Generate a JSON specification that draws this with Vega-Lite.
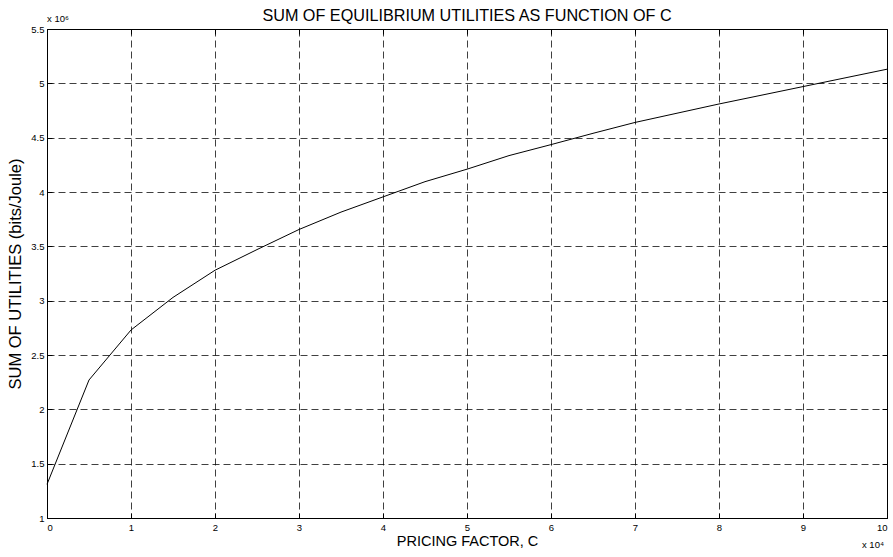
{
  "$schema": "https://vega.github.io/schema/vega-lite/v6.json",
  "width": 840,
  "height": 489,
  "autosize": "none",
  "padding": {"left": 47, "top": 29, "right": 6, "bottom": 39},
  "background": "white",
  "config": {
    "font": "Liberation Sans",
    "view": {"stroke": "black", "strokeWidth": 1},
    "axis": {"labelFont": "Liberation Sans", "titleFont": "Liberation Sans", "labelColor": "black", "titleColor": "black", "titleFontWeight": "normal"}
  },
  "title": {"text": "SUM OF EQUILIBRIUM UTILITIES AS FUNCTION OF C", "font": "Liberation Sans", "fontSize": 16.2, "fontWeight": "normal", "color": "black", "anchor": "middle", "offset": -10},
  "datasets": {
    "curve": [
      {"c": 0, "u": 1310000},
      {"c": 5000, "u": 2270000},
      {"c": 10000, "u": 2730000},
      {"c": 15000, "u": 3030000},
      {"c": 20000, "u": 3280000},
      {"c": 25000, "u": 3470000},
      {"c": 30000, "u": 3655000},
      {"c": 35000, "u": 3815000},
      {"c": 40000, "u": 3955000},
      {"c": 45000, "u": 4095000},
      {"c": 50000, "u": 4210000},
      {"c": 55000, "u": 4335000},
      {"c": 60000, "u": 4436000},
      {"c": 65000, "u": 4540000},
      {"c": 70000, "u": 4640000},
      {"c": 75000, "u": 4725000},
      {"c": 80000, "u": 4810000},
      {"c": 85000, "u": 4890000},
      {"c": 90000, "u": 4970000},
      {"c": 95000, "u": 5050000},
      {"c": 100000, "u": 5130000}
    ],
    "notes": [
      {"c": 0, "u": 5500000, "text": "x 10⁶", "pos": "top"},
      {"c": 100000, "u": 1000000, "text": "x 10⁴", "pos": "bottom"}
    ]
  },
  "layer": [
    {
      "data": {"name": "curve"},
      "mark": {"type": "line", "color": "black", "strokeWidth": 1},
      "encoding": {
        "x": {"field": "c", "type": "quantitative",
          "scale": {"domain": [0, 100000], "nice": false, "zero": false},
          "axis": {"orient": "bottom", "values": [0,10000,20000,30000,40000,50000,60000,70000,80000,90000,100000],
            "labelExpr": "'' + (datum.value/10000)", "labelFontSize": 9.5, "labelPadding": 9,
            "tickSize": -5, "tickColor": "black", "domain": false,
            "grid": true, "gridColor": "black", "gridDash": [7, 4], "gridOpacity": 0.75, "gridWidth": 1,
            "title": "PRICING FACTOR, C", "titleFontSize": 14.5, "titlePadding": 3}},
        "y": {"field": "u", "type": "quantitative",
          "scale": {"domain": [1000000, 5500000], "nice": false, "zero": false},
          "axis": {"orient": "left", "values": [1000000,1500000,2000000,2500000,3000000,3500000,4000000,4500000,5000000,5500000],
            "labelExpr": "'' + (datum.value/1000000)", "labelFontSize": 9.5, "labelPadding": 8,
            "tickSize": -5, "tickColor": "black", "domain": false,
            "grid": true, "gridColor": "black", "gridDash": [7, 4], "gridOpacity": 0.75, "gridWidth": 1,
            "title": "SUM OF UTILITIES (bits/Joule)", "titleFontSize": 16.5, "titlePadding": 7}}
      }
    },
    {
      "data": {"name": "curve"},
      "mark": {"type": "line", "opacity": 0},
      "encoding": {
        "x": {"field": "c", "type": "quantitative",
          "axis": {"orient": "top", "values": [0,10000,20000,30000,40000,50000,60000,70000,80000,90000,100000],
            "labels": false, "tickSize": -5, "tickColor": "black", "domain": false, "grid": false, "title": null}},
        "y": {"field": "u", "type": "quantitative",
          "axis": {"orient": "right", "values": [1000000,1500000,2000000,2500000,3000000,3500000,4000000,4500000,5000000,5500000],
            "labels": false, "tickSize": -5, "tickColor": "black", "domain": false, "grid": false, "title": null}}
      }
    },
    {
      "data": {"name": "notes"},
      "transform": [{"filter": "datum.pos == 'top'"}],
      "mark": {"type": "text", "align": "left", "baseline": "alphabetic", "dy": -7, "fontSize": 9.5, "color": "black", "font": "Liberation Sans"},
      "encoding": {
        "x": {"field": "c", "type": "quantitative", "axis": null},
        "y": {"field": "u", "type": "quantitative", "axis": null},
        "text": {"field": "text"}
      }
    },
    {
      "data": {"name": "notes"},
      "transform": [{"filter": "datum.pos == 'bottom'"}],
      "mark": {"type": "text", "align": "right", "baseline": "alphabetic", "dy": 30, "dx": -3, "fontSize": 9.5, "color": "black", "font": "Liberation Sans"},
      "encoding": {
        "x": {"field": "c", "type": "quantitative", "axis": null},
        "y": {"field": "u", "type": "quantitative", "axis": null},
        "text": {"field": "text"}
      }
    }
  ],
  "resolve": {"axis": {"x": "independent", "y": "independent"}}
}
